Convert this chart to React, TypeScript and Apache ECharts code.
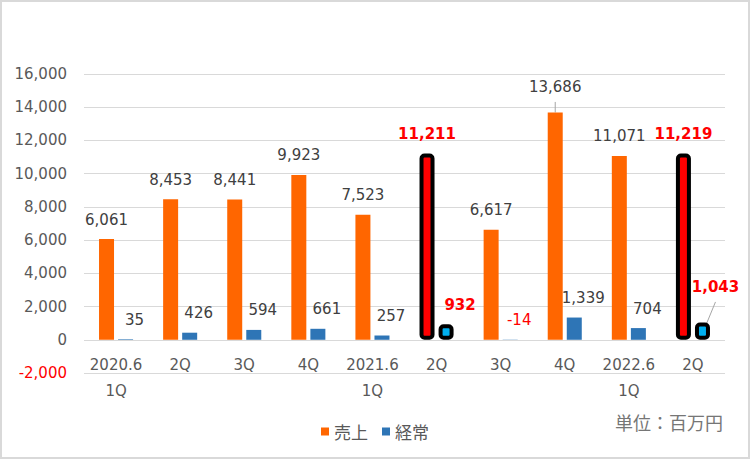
import React, { useEffect, useRef } from "react";
import * as echarts from "echarts";

const categories = ["2020.6\n1Q", "2Q", "3Q", "4Q", "2021.6\n1Q", "2Q", "3Q", "4Q", "2022.6\n1Q", "2Q"];
const sales = [6061, 8453, 8441, 9923, 7523, 11211, 6617, 13686, 11071, 11219];
const ordinary = [35, 426, 594, 661, 257, 932, -14, 1339, 704, 1043];
const highlightIdx = [5, 9];
const seriesNames = ["売上", "経常"];
const unitText = "単位：百万円";

const NUM_FONT = "'DejaVu Sans', sans-serif";
const CJK_FONT = "'Noto Sans CJK JP', sans-serif";

const fmt = (v: number) => v.toLocaleString("en-US");

export default function App() {
  const ref = useRef<HTMLDivElement>(null);

  useEffect(() => {
    document.body.style.margin = "0";
    if (!ref.current) return;
    const chart = echarts.init(ref.current, undefined, { renderer: "svg" });

    const redBold = { color: "#ff0000", fontWeight: "bold", fontSize: 15 };

    const salesData = sales.map((v, i) => {
      const item: any = { value: v };
      if (highlightIdx.includes(i)) {
        item.itemStyle = { color: "#ff0000", borderColor: "#000000", borderWidth: 4, borderRadius: 3 };
        item.label = { ...redBold };
      }
      if (i === 7) {
        item.label = { offset: [0, -6] };
        item.labelLine = { show: true, lineStyle: { color: "#a6a6a6", width: 1 } };
      }
      return item;
    });

    const ordData = ordinary.map((v, i) => {
      const item: any = { value: v };
      if (highlightIdx.includes(i)) {
        item.itemStyle = { color: "#00b0f0", borderColor: "#000000", borderWidth: 4, borderRadius: 3 };
        item.label = { ...redBold, offset: [14, 0] };
      }
      if (v < 0) {
        item.label = { color: "#ff0000" };
      }
      if (i === 9) {
        item.label = { ...redBold, offset: [13, -16] };
        item.labelLine = { show: true, lineStyle: { color: "#a6a6a6", width: 1 } };
      }
      return item;
    });

    chart.setOption({
      animation: false,
      backgroundColor: "#ffffff",
      grid: { left: 84, right: 25, top: 74, bottom: 86, containLabel: false },
      legend: {
        data: seriesNames,
        top: 418,
        left: "center",
        icon: "rect",
        itemWidth: 8,
        itemHeight: 8,
        itemGap: 14,
        textStyle: { fontFamily: CJK_FONT, fontSize: 17, color: "#595959" },
      },
      graphic: [
        {
          type: "text",
          left: 615,
          top: 413,
          style: { text: unitText, fontFamily: CJK_FONT, fontSize: 18, fill: "#767676" },
        },
      ],
      xAxis: {
        type: "category",
        data: categories,
        axisLine: { show: false, onZero: false },
        axisTick: { show: false },
        axisLabel: {
          interval: 0,
          margin: -21,
          lineHeight: 26,
          fontFamily: NUM_FONT,
          fontSize: 15,
          color: "#595959",
        },
      },
      yAxis: {
        type: "value",
        min: -2000,
        max: 16000,
        interval: 2000,
        axisLine: { show: false },
        axisTick: { show: false },
        splitLine: { lineStyle: { color: "#d9d9d9", width: 1 } },
        axisLabel: {
          margin: 17,
          fontFamily: NUM_FONT,
          fontSize: 15,
          color: "#595959",
          formatter: (v: number) => (v < 0 ? `{neg|${fmt(v)}}` : fmt(v)),
          rich: { neg: { color: "#ff0000", fontFamily: NUM_FONT, fontSize: 15 } },
        },
      },
      series: [
        {
          name: seriesNames[0],
          type: "bar",
          data: salesData,
          barWidth: 15,
          barGap: "27%",
          itemStyle: { color: "#ff6600" },
          label: {
            show: true,
            position: "top",
            distance: 12,
            fontFamily: NUM_FONT,
            fontSize: 15,
            color: "#404040",
            formatter: (p: any) => fmt(p.value),
          },
        },
        {
          name: seriesNames[1],
          type: "bar",
          data: ordData,
          barWidth: 15,
          itemStyle: { color: "#2e75b6" },
          label: {
            show: true,
            position: "top",
            distance: 12,
            offset: [9, 0],
            fontFamily: NUM_FONT,
            fontSize: 15,
            color: "#404040",
            formatter: (p: any) => fmt(p.value),
          },
        },
      ],
    });

    return () => chart.dispose();
  }, []);

  return (
    <div style={{ position: "relative", width: 750, height: 459 }}>
      <div ref={ref} style={{ width: 750, height: 459 }} />
      <div
        style={{
          position: "absolute",
          left: 0,
          top: 0,
          width: 750,
          height: 459,
          boxSizing: "border-box",
          border: "2px solid #d9d9d9",
          pointerEvents: "none",
        }}
      />
    </div>
  );
}
